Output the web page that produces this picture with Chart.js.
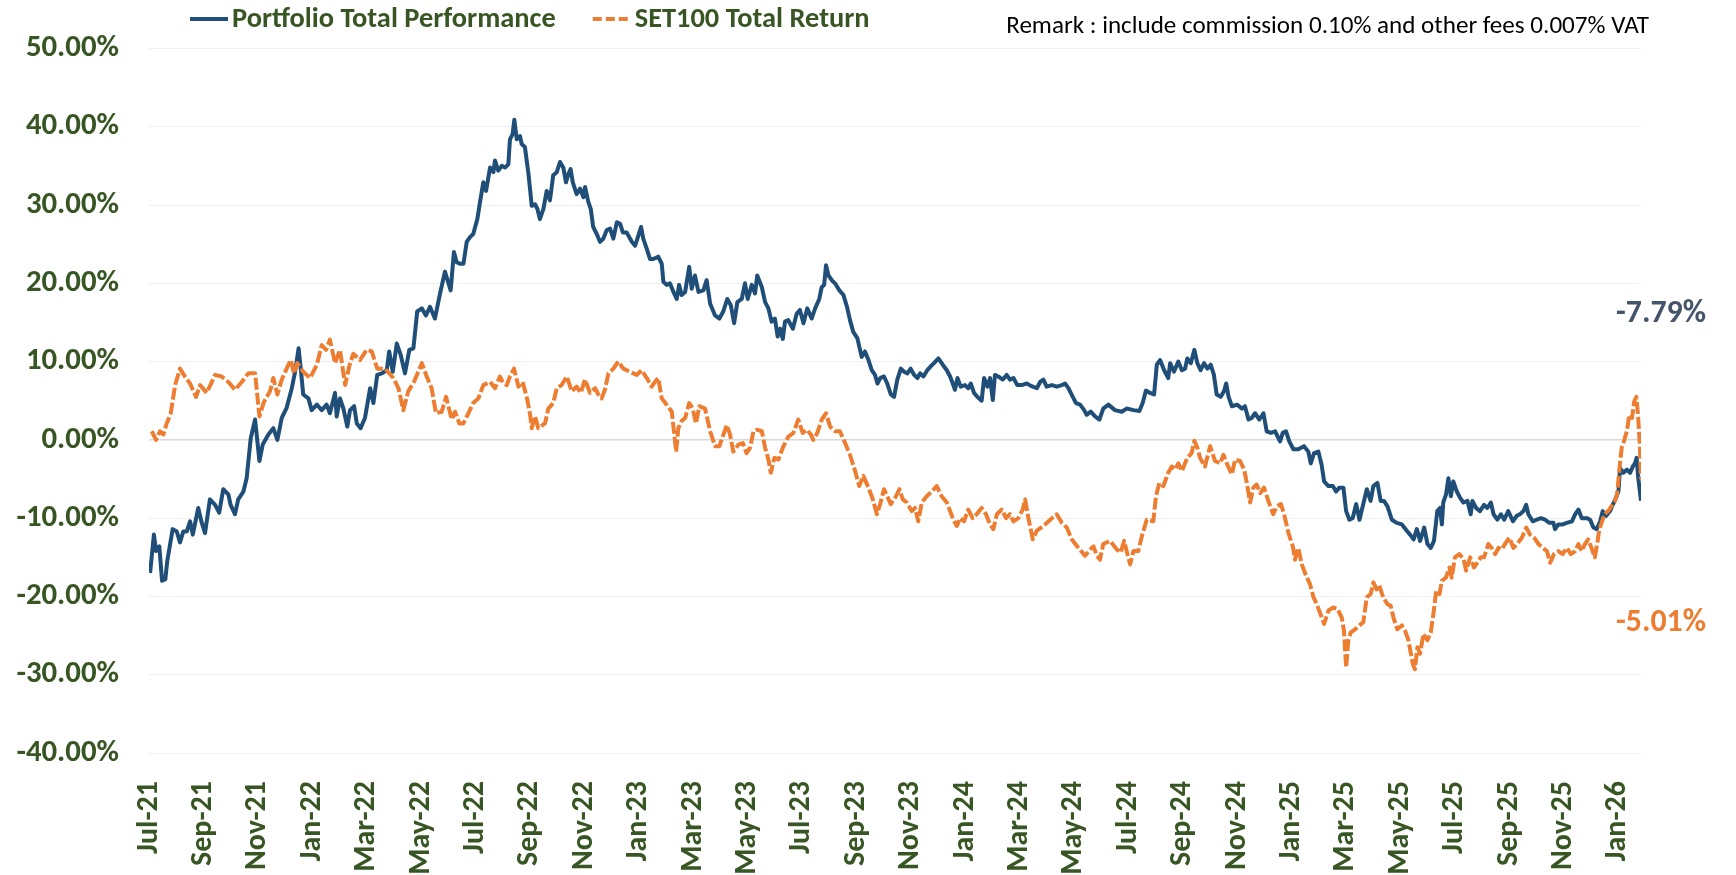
<!DOCTYPE html>
<html>
<head>
<meta charset="utf-8">
<script src="https://cdn.jsdelivr.net/npm/chart.js@4.4.1/dist/chart.umd.min.js"></script>
<style>
  html, body { margin: 0; padding: 0; background: #ffffff; }
  #wrap { width: 1736px; height: 875px; }
</style>
</head>
<body>
<div id="wrap"><canvas id="c" width="1736" height="875"></canvas></div>
<script>
// ---------------- DATA ----------------
const seriesNames = ['Portfolio Total Performance', 'SET100 Total Return'];
const remarkText = 'Remark : include commission 0.10% and other fees 0.007% VAT';
const tickMonths = [0,2,4,6,8,10,12,14,16,18,20,22,24,26,28,30,32,34,36,38,40,42,44,46,48,50,52,54];
const tickLabels = ['Jul-21','Sep-21','Nov-21','Jan-22','Mar-22','May-22','Jul-22','Sep-22','Nov-22','Jan-23',
  'Mar-23','May-23','Jul-23','Sep-23','Nov-23','Jan-24','Mar-24','May-24','Jul-24','Sep-24','Nov-24','Jan-25',
  'Mar-25','May-25','Jul-25','Sep-25','Nov-25','Jan-26'];
const yTicks = [-40,-30,-20,-10,0,10,20,30,40,50];
const endLabels = ['-7.79%', '-5.01%'];

// months since Jul-2021 (x) and total return % (y)
const portMonths = [0.04,0.18,0.26,0.38,0.48,0.60,0.67,0.87,1.02,1.14,1.26,1.39,1.51,1.61,1.81,1.94,2.06,2.24,2.43,2.58,2.73,2.92,3.00,3.16,3.28,3.47,3.59,3.74,3.90,4.06,4.18,4.39,4.57,4.72,4.88,5.06,5.25,5.37,5.50,5.59,5.67,5.86,5.98,6.17,6.35,6.53,6.65,6.84,6.90,7.02,7.14,7.29,7.39,7.54,7.64,7.78,7.94,8.13,8.25,8.39,8.56,8.74,8.83,8.96,9.11,9.25,9.41,9.57,9.72,9.86,10.03,10.18,10.33,10.51,10.70,10.88,11.09,11.21,11.31,11.43,11.56,11.68,11.80,11.92,12.07,12.17,12.29,12.39,12.54,12.66,12.72,12.84,12.97,13.09,13.21,13.27,13.37,13.43,13.52,13.64,13.70,13.82,13.95,14.07,14.19,14.28,14.37,14.50,14.62,14.74,14.86,14.99,15.11,15.23,15.33,15.42,15.50,15.58,15.72,15.85,15.97,16.03,16.15,16.24,16.33,16.46,16.58,16.70,16.83,16.95,17.07,17.20,17.32,17.42,17.56,17.75,17.87,17.99,18.09,18.17,18.30,18.42,18.54,18.72,18.85,18.91,19.03,19.15,19.28,19.40,19.49,19.58,19.71,19.86,19.95,20.07,20.20,20.38,20.50,20.63,20.81,20.97,21.11,21.26,21.39,21.51,21.63,21.79,21.91,22.01,22.16,22.28,22.36,22.53,22.65,22.77,22.89,23.01,23.11,23.20,23.30,23.38,23.50,23.67,23.81,23.93,24.06,24.20,24.36,24.49,24.64,24.73,24.82,24.89,24.98,25.10,25.22,25.38,25.53,25.66,25.77,25.89,26.04,26.20,26.32,26.45,26.57,26.69,26.78,26.88,27.02,27.14,27.27,27.39,27.51,27.64,27.76,27.88,28.00,28.13,28.25,28.35,28.47,28.61,28.74,28.86,29.02,29.18,29.33,29.45,29.55,29.63,29.72,29.84,30.00,30.12,30.21,30.33,30.45,30.61,30.70,30.82,30.92,31.02,31.10,31.22,31.39,31.53,31.65,31.78,31.92,32.08,32.27,32.42,32.64,32.76,32.88,33.00,33.19,33.37,33.56,33.68,33.80,33.96,34.08,34.23,34.38,34.47,34.62,34.78,34.94,35.08,35.27,35.51,35.76,35.94,36.19,36.41,36.53,36.65,36.80,36.95,37.05,37.17,37.32,37.47,37.54,37.68,37.84,37.97,38.09,38.17,38.30,38.43,38.54,38.66,38.79,38.91,39.03,39.15,39.25,39.40,39.52,39.60,39.69,39.81,40.00,40.18,40.29,40.42,40.54,40.66,40.82,40.97,41.09,41.24,41.40,41.58,41.68,41.80,41.92,42.07,42.25,42.46,42.62,42.71,42.83,42.99,43.11,43.20,43.36,43.52,43.64,43.76,43.91,44.01,44.13,44.25,44.38,44.50,44.64,44.77,44.91,45.01,45.16,45.28,45.40,45.53,45.69,45.87,46.06,46.24,46.36,46.49,46.61,46.73,46.88,47.00,47.12,47.24,47.36,47.46,47.53,47.58,47.68,47.77,47.86,47.95,48.08,48.20,48.32,48.47,48.59,48.65,48.79,48.93,49.08,49.20,49.33,49.43,49.57,49.70,49.82,49.97,50.14,50.28,50.40,50.53,50.63,50.71,50.87,51.02,51.17,51.32,51.48,51.63,51.69,51.81,51.97,52.12,52.31,52.43,52.55,52.67,52.86,52.98,53.10,53.22,53.35,53.44,53.57,53.71,53.81,53.93,54.02,54.08,54.20,54.33,54.45,54.55,54.63,54.69,54.75,54.85];
const portValues = [-17.0,-12.1,-14.2,-13.6,-18.0,-17.8,-15.5,-11.4,-11.7,-13.1,-11.7,-11.7,-10.4,-12.1,-8.7,-10.6,-11.9,-7.6,-8.3,-9.3,-6.3,-7.0,-8.3,-9.5,-7.6,-6.6,-4.9,0.2,2.6,-2.7,-0.6,0.7,1.5,0.0,2.8,4.1,6.6,8.7,11.7,8.7,5.8,5.3,3.8,4.5,3.8,4.5,3.4,6.0,3.0,5.3,4.1,1.7,3.8,4.3,2.1,1.5,2.8,6.6,4.7,8.3,8.5,8.9,11.3,8.7,12.3,10.9,8.5,11.5,11.7,16.4,16.8,15.9,17.0,15.5,18.7,21.5,19.1,24.0,22.7,22.5,22.5,25.3,25.9,26.3,28.2,30.4,32.9,31.8,34.8,34.2,35.7,34.4,35.0,34.8,35.2,38.4,39.1,40.9,38.4,38.8,37.8,37.4,34.0,29.9,30.1,29.5,28.2,29.5,31.8,30.6,33.8,34.2,35.5,34.8,32.9,34.0,34.6,32.9,31.4,32.1,31.0,32.3,30.4,29.5,27.2,26.3,25.3,25.7,26.8,27.0,25.7,27.8,27.6,26.5,26.5,25.3,24.8,26.1,27.2,25.7,24.4,23.1,23.1,23.4,22.5,20.2,19.8,20.0,18.9,18.0,19.8,18.5,18.9,22.1,19.3,21.0,18.9,19.1,20.4,17.4,15.9,15.5,16.4,18.0,17.2,14.9,17.6,18.0,20.0,18.0,19.8,18.7,21.0,19.5,17.6,16.8,15.1,15.5,13.2,14.2,12.9,15.1,15.3,14.2,16.1,16.6,14.9,16.8,15.5,16.8,18.0,19.5,19.8,22.3,21.0,20.4,20.0,19.1,18.5,17.0,15.3,13.8,13.0,10.6,11.3,10.2,8.9,8.3,7.2,7.9,8.1,7.2,5.8,5.5,7.7,9.1,8.7,8.5,9.1,8.3,7.9,8.5,8.1,8.9,9.4,9.8,10.4,9.6,8.9,8.1,7.2,6.4,7.9,6.8,7.0,6.6,7.2,6.0,5.5,5.0,7.9,6.8,7.9,5.1,8.3,8.1,7.7,8.3,7.7,7.9,7.0,7.0,7.2,6.9,6.6,7.4,7.7,6.8,7.0,6.8,7.0,7.2,6.6,5.5,4.7,4.5,3.8,3.2,3.6,3.0,2.6,4.0,4.5,3.8,3.6,4.0,3.8,3.7,4.7,6.3,6.0,5.8,9.6,10.2,8.9,7.9,9.8,8.7,10.0,8.9,9.1,10.4,9.8,11.5,9.8,8.9,9.8,9.1,9.6,8.3,5.8,5.5,6.2,7.2,5.5,4.3,4.5,4.0,4.3,2.6,2.8,3.4,2.6,3.4,1.1,0.9,1.1,-0.2,0.9,1.1,-0.2,-1.2,-1.2,-0.8,-1.5,-3.0,-1.7,-1.5,-3.2,-5.3,-5.9,-5.9,-6.6,-6.1,-6.1,-9.1,-10.2,-10.0,-8.2,-10.2,-8.2,-6.3,-7.8,-5.9,-5.5,-7.8,-7.8,-8.5,-10.2,-10.6,-10.8,-11.6,-12.1,-12.7,-11.4,-12.9,-11.2,-13.3,-13.8,-12.9,-9.1,-8.7,-10.8,-8.0,-7.0,-4.9,-7.2,-5.3,-6.6,-7.4,-8.0,-7.8,-9.5,-7.8,-8.7,-9.1,-8.3,-8.7,-8.0,-9.5,-10.2,-9.5,-10.2,-9.1,-10.4,-9.7,-9.5,-9.1,-8.3,-9.5,-10.4,-10.2,-10.0,-10.2,-10.6,-10.6,-11.4,-10.8,-10.8,-10.6,-10.4,-9.5,-8.9,-10.0,-10.0,-10.2,-11.2,-11.4,-10.4,-9.1,-9.7,-9.1,-8.3,-7.4,-6.6,-3.6,-4.2,-3.8,-4.2,-3.4,-3.0,-2.3,-4.9,-7.79];

const setMonths = [0.10,0.26,0.40,0.53,0.65,0.80,0.96,1.14,1.32,1.51,1.73,1.88,2.12,2.43,2.67,2.92,3.16,3.41,3.65,3.90,4.06,4.23,4.45,4.57,4.72,4.88,5.06,5.21,5.33,5.45,5.67,5.92,6.17,6.35,6.51,6.65,6.84,7.02,7.21,7.36,7.51,7.76,8.00,8.19,8.39,8.68,8.98,9.17,9.35,9.53,9.74,10.03,10.21,10.39,10.55,10.76,10.92,11.13,11.25,11.41,11.56,11.74,11.92,12.11,12.29,12.54,12.72,12.90,13.03,13.15,13.27,13.42,13.58,13.74,13.91,14.01,14.07,14.19,14.31,14.56,14.68,14.86,14.99,15.17,15.36,15.54,15.72,15.87,16.03,16.21,16.40,16.52,16.64,16.76,16.89,17.07,17.25,17.44,17.68,17.93,18.11,18.30,18.48,18.60,18.72,18.85,19.03,19.22,19.38,19.46,19.58,19.71,19.86,19.99,20.11,20.23,20.44,20.63,20.81,20.97,21.09,21.24,21.36,21.48,21.67,21.83,21.97,22.10,22.22,22.34,22.53,22.65,22.77,22.86,22.99,23.14,23.30,23.50,23.69,23.87,24.03,24.18,24.33,24.42,24.57,24.73,24.89,25.04,25.22,25.40,25.59,25.77,25.96,26.11,26.26,26.45,26.61,26.76,26.88,27.02,27.14,27.27,27.43,27.59,27.71,27.86,28.04,28.16,28.28,28.41,28.59,28.78,28.96,29.14,29.33,29.45,29.57,29.70,29.82,29.96,30.12,30.28,30.43,30.61,30.77,30.92,31.04,31.17,31.35,31.51,31.65,31.78,31.96,32.12,32.21,32.33,32.49,32.64,32.88,33.13,33.37,33.56,33.74,33.92,34.17,34.41,34.60,34.72,34.85,34.96,35.08,35.33,35.58,35.72,35.85,35.97,36.07,36.19,36.37,36.50,36.68,36.92,37.02,37.14,37.29,37.47,37.60,37.72,37.84,37.97,38.17,38.33,38.43,38.54,38.64,38.82,39.01,39.19,39.38,39.50,39.62,39.81,39.93,40.11,40.26,40.36,40.48,40.60,40.72,40.85,40.99,41.15,41.33,41.46,41.61,41.73,41.89,42.05,42.13,42.25,42.38,42.54,42.68,42.81,42.93,43.05,43.20,43.36,43.54,43.69,43.85,43.93,44.01,44.09,44.18,44.34,44.50,44.64,44.77,44.91,45.01,45.13,45.23,45.37,45.53,45.65,45.75,45.89,46.06,46.18,46.30,46.46,46.54,46.63,46.73,46.85,47.00,47.12,47.22,47.32,47.44,47.53,47.68,47.81,47.89,48.01,48.17,48.33,48.42,48.57,48.71,48.83,48.96,49.08,49.24,49.36,49.49,49.61,49.73,49.85,50.01,50.16,50.30,50.47,50.63,50.77,50.92,51.08,51.24,51.39,51.51,51.65,51.81,51.97,52.12,52.27,52.43,52.55,52.67,52.79,52.91,53.03,53.15,53.24,53.31,53.40,53.51,53.64,53.76,53.89,53.97,54.05,54.14,54.22,54.33,54.42,54.52,54.60,54.68,54.74,54.80,54.85];
const setValues = [1.1,0.0,1.1,0.7,2.1,3.4,7.0,9.1,8.1,7.2,5.5,7.0,6.0,8.3,8.1,7.4,6.4,7.4,8.5,8.5,3.0,4.9,6.2,7.9,5.8,7.7,9.1,10.2,8.5,9.8,8.7,7.9,9.6,12.1,11.5,12.8,9.8,11.5,7.0,9.4,11.0,10.2,11.5,11.3,9.1,9.1,7.9,6.6,3.8,6.2,7.4,9.8,8.1,6.6,3.4,3.6,5.5,2.6,3.6,2.1,2.1,3.4,4.7,5.3,7.0,7.4,6.6,8.1,7.2,7.0,8.1,9.1,6.8,7.4,5.1,3.2,1.5,3.0,1.5,2.1,4.0,4.7,6.6,7.0,8.1,6.2,6.8,6.0,7.7,6.0,6.6,5.8,5.3,6.4,8.5,9.1,10.0,9.1,8.7,8.3,8.9,7.9,6.8,7.4,7.9,5.3,4.5,3.6,-1.5,1.5,2.4,2.8,4.7,4.0,2.1,4.3,4.0,1.1,-0.8,-0.8,0.4,1.9,0.7,-1.5,-0.6,-0.4,-1.7,-1.0,1.1,1.3,1.1,-1.0,-2.5,-4.2,-2.3,-2.5,-1.0,0.4,0.9,2.6,0.9,1.3,0.7,0.0,0.9,2.6,3.4,1.7,1.1,1.1,-0.4,-1.9,-4.0,-5.9,-4.6,-6.1,-7.6,-9.5,-8.2,-6.3,-7.2,-8.2,-7.4,-6.3,-7.6,-8.0,-9.1,-8.7,-10.4,-8.0,-7.2,-6.6,-5.9,-7.2,-8.0,-9.1,-10.2,-11.0,-10.0,-10.4,-8.9,-10.0,-9.5,-8.7,-9.5,-10.8,-11.4,-9.5,-8.9,-10.0,-9.5,-10.4,-10.0,-8.9,-7.6,-10.0,-12.7,-11.6,-11.0,-10.2,-9.5,-10.6,-11.2,-12.7,-13.8,-14.8,-14.0,-13.6,-14.8,-15.3,-13.3,-12.9,-14.0,-14.4,-12.9,-14.6,-15.9,-14.2,-14.2,-12.3,-10.2,-10.4,-7.2,-5.5,-5.9,-4.2,-3.4,-3.8,-3.0,-4.0,-2.3,-1.7,-0.1,-1.0,-2.3,-3.4,-0.8,-2.7,-3.0,-1.9,-3.0,-4.4,-2.5,-2.7,-3.8,-5.5,-8.0,-6.1,-5.7,-6.8,-6.1,-7.8,-9.5,-8.5,-8.2,-9.5,-11.9,-13.6,-15.3,-13.8,-15.9,-17.4,-18.4,-20.1,-21.0,-22.1,-23.5,-21.8,-21.4,-21.6,-22.7,-24.4,-29.1,-25.6,-24.6,-24.2,-23.7,-23.3,-20.1,-19.7,-18.2,-19.1,-18.6,-20.1,-21.0,-21.2,-22.7,-24.2,-23.7,-24.4,-25.6,-28.6,-29.3,-26.5,-27.3,-24.8,-25.6,-24.6,-22.2,-19.3,-19.7,-18.0,-17.6,-16.3,-17.6,-15.0,-14.6,-15.2,-16.7,-15.0,-16.3,-15.7,-15.0,-15.0,-13.3,-13.8,-14.6,-13.8,-14.0,-13.3,-12.5,-13.8,-13.3,-12.5,-11.2,-12.1,-12.5,-13.3,-13.8,-14.2,-15.7,-14.6,-14.2,-14.6,-13.8,-14.6,-14.2,-13.3,-14.2,-13.3,-12.7,-13.8,-15.0,-13.3,-11.6,-10.6,-9.5,-9.1,-8.5,-7.8,-7.0,-4.0,-1.0,-0.2,1.1,3.2,2.8,4.9,5.5,3.2,-0.2,-5.01];

// ---------------- STYLE ----------------
const BLUE = '#1F4E79', ORANGE = '#ED7D31', GREEN = '#375623', SLATE = '#44546A';

function hasFont(name) {
  const c = document.createElement('canvas').getContext('2d');
  const s = 'abcdefghijklmnopqrstuvwxyz0123456789%';
  c.font = '72px monospace'; const a = c.measureText(s).width;
  c.font = `72px "${name}", monospace`; const b = c.measureText(s).width;
  return Math.abs(a - b) > 0.5;
}
const FAMILY = hasFont('Carlito') ? 'Carlito' : 'Liberation Sans';
const mctx = document.createElement('canvas').getContext('2d');
function fitSize(text, width, weight) {
  mctx.font = `${weight} 100px "${FAMILY}"`;
  return Math.round(100 * width / mctx.measureText(text).width * 10) / 10;
}
const yFont = fitSize('50.00%', 93, 'bold');
const xFont = fitSize('Sep-25', 85, 'bold');
const legFont = fitSize(seriesNames[0], 324, 'bold');
const remFont = fitSize(remarkText, 644, 'normal');
const endFont = fitSize(endLabels[0], 90, 'bold');

const toPts = (xs, ys) => xs.map((x, i) => ({ x: x, y: ys[i] }));
const xMax = Math.max(portMonths[portMonths.length - 1], setMonths[setMonths.length - 1]);

const overlay = {
  id: 'overlay',
  afterDraw(chart) {
    const c = chart.ctx, a = chart.chartArea, ys = chart.scales.y;
    c.save();
    // legend
    const ly = 19;
    let x = a.left + 41;
    c.font = `bold ${legFont}px "${FAMILY}"`;
    c.textBaseline = 'middle'; c.textAlign = 'left'; c.fillStyle = GREEN;
    const items = [{ col: BLUE, dash: [] }, { col: ORANGE, dash: [9, 4] }];
    items.forEach((it, i) => {
      c.strokeStyle = it.col; c.lineWidth = 4; c.setLineDash(it.dash); c.lineCap = 'butt';
      c.beginPath(); c.moveTo(x, ly); c.lineTo(x + 38, ly); c.stroke();
      c.setLineDash([]);
      c.fillStyle = GREEN;
      c.fillText(seriesNames[i], x + 42, ly + 1);
      x += 42 + c.measureText(seriesNames[i]).width + 37;
    });
    // remark
    c.font = `normal ${remFont}px "${FAMILY}"`;
    c.fillStyle = '#000000'; c.textAlign = 'right'; c.textBaseline = 'alphabetic';
    c.fillText(remarkText, a.right + 8, 33);
    // end labels
    c.font = `bold ${endFont}px "${FAMILY}"`;
    c.textBaseline = 'middle'; c.textAlign = 'right';
    c.fillStyle = SLATE; c.fillText(endLabels[0], a.right + 65, ys.getPixelForValue(16.1));
    c.fillStyle = ORANGE; c.fillText(endLabels[1], a.right + 65, ys.getPixelForValue(-23.4));
    c.restore();
  }
};

new Chart(document.getElementById('c'), {
  type: 'line',
  data: {
    datasets: [
      { label: seriesNames[0], data: toPts(portMonths, portValues), borderColor: BLUE, backgroundColor: BLUE,
        borderWidth: 4, pointRadius: 0, tension: 0, order: 1, borderJoinStyle: 'round' },
      { label: seriesNames[1], data: toPts(setMonths, setValues), borderColor: ORANGE, backgroundColor: ORANGE,
        borderWidth: 4, borderDash: [12, 3], pointRadius: 0, tension: 0, order: 0, borderJoinStyle: 'round' }
    ]
  },
  options: {
    responsive: false, animation: false, devicePixelRatio: 1,
    layout: { padding: { top: 46, right: 95, left: 0, bottom: 0 } },
    plugins: { legend: { display: false }, tooltip: { enabled: false } },
    scales: {
      x: {
        type: 'linear', min: 0, max: xMax,
        grid: { display: false }, border: { display: false },
        afterBuildTicks: s => { s.ticks = tickMonths.map(v => ({ value: v })); },
        afterFit: s => { s.height = 122; },
        ticks: {
          autoSkip: false, minRotation: 90, maxRotation: 90, padding: 20, color: GREEN,
          font: { family: FAMILY, size: xFont, weight: 'bold' },
          callback: (v, i) => tickLabels[i]
        }
      },
      y: {
        min: yTicks[0], max: yTicks[yTicks.length - 1],
        afterBuildTicks: s => { s.ticks = yTicks.map(v => ({ value: v })); },
        afterFit: s => { s.width = 149; },
        border: { display: false },
        grid: {
          drawTicks: false,
          color: c => (c.tick && c.tick.value === 0) ? '#D9D9D9' : '#EFEFEF',
          lineWidth: c => (c.tick && c.tick.value === 0) ? 1.5 : 1
        },
        ticks: {
          padding: 30, color: GREEN,
          font: { family: FAMILY, size: yFont, weight: 'bold' },
          callback: v => v.toFixed(2) + '%'
        }
      }
    }
  },
  plugins: [overlay]
});
</script>
</body>
</html>
